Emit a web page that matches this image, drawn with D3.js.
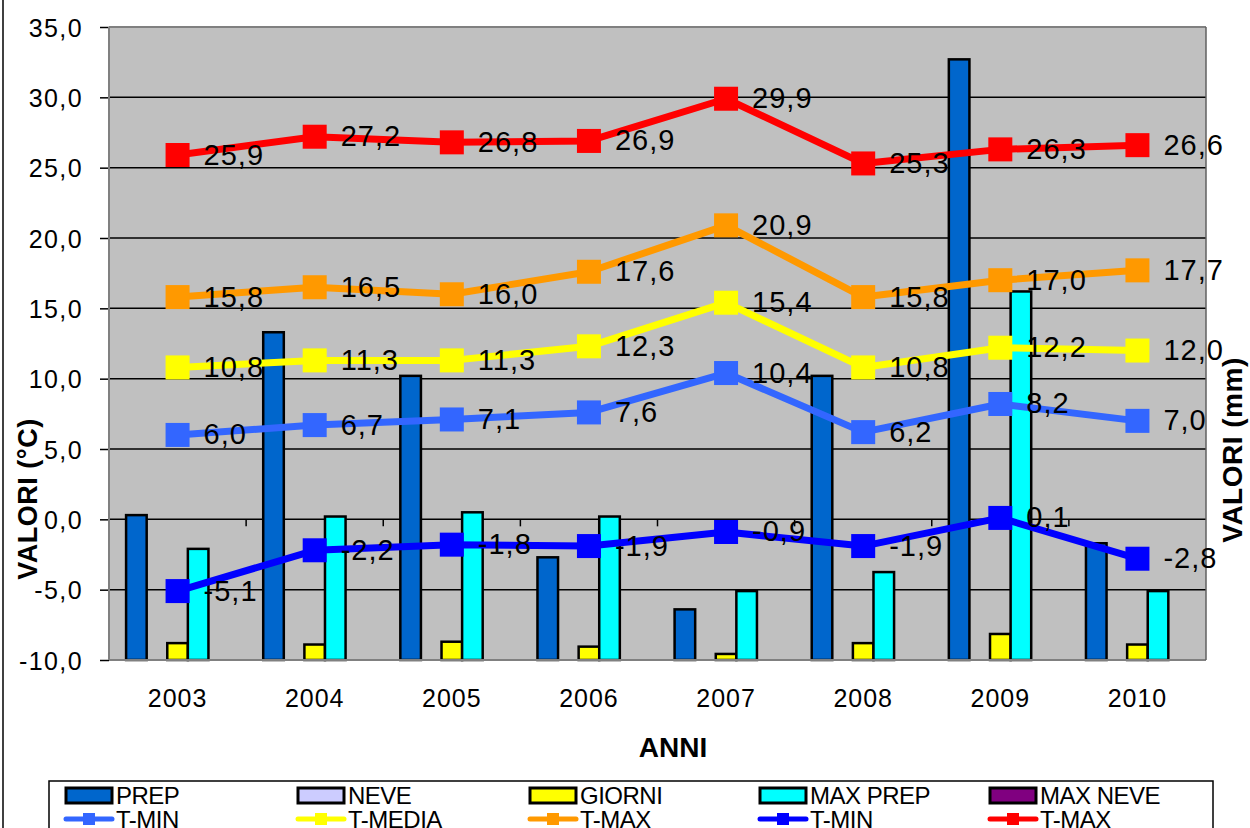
<!DOCTYPE html>
<html>
<head>
<meta charset="utf-8">
<script src="https://cdn.jsdelivr.net/npm/d3@7"></script>
<style>
  html, body { margin: 0; padding: 0; background: #fff; }
  svg { display: block; font-family: "Liberation Sans", Arial, sans-serif; }
</style>
</head>
<body>
<svg id="chart" width="1250" height="828"></svg>
<script>
// Anni
const years = ["2003", "2004", "2005", "2006", "2007", "2008", "2009", "2010"];

// Temperature (°C)
const tMinLight = [6.0, 6.7, 7.1, 7.6, 10.4, 6.2, 8.2, 7.0];
const tMedia    = [10.8, 11.3, 11.3, 12.3, 15.4, 10.8, 12.2, 12.0];
const tMaxOrange = [15.8, 16.5, 16.0, 17.6, 20.9, 15.8, 17.0, 17.7];
const tMinBlue  = [-5.1, -2.2, -1.8, -1.9, -0.9, -1.9, 0.1, -2.8];
const tMaxRed   = [25.9, 27.2, 26.8, 26.9, 29.9, 25.3, 26.3, 26.6];

// Precipitazioni (mm, asse secondario)
const prep    = [103, 233, 202, 73, 36, 202, 427, 83];
const neve    = [0, 0, 0, 0, 0, 0, 0, 0];
const giorni  = [12, 11, 13, 9.5, 4.3, 12, 18.5, 11];
const maxPrep = [79, 102, 105, 102, 49, 62.5, 262, 49];
const maxNeve = [0, 0, 0, 0, 0, 0, 0, 0];

// Assi
const yTicks = [-10, -5, 0, 5, 10, 15, 20, 25, 30, 35];
const yDomain = [-10, 35];
const y2Domain = [0, 450];

const barSeries = [
  { name: "PREP", values: prep, color: "#0066CC" },
  { name: "NEVE", values: neve, color: "#CCCCFF" },
  { name: "GIORNI", values: giorni, color: "#FFFF00" },
  { name: "MAX PREP", values: maxPrep, color: "#00FFFF" },
  { name: "MAX NEVE", values: maxNeve, color: "#800080" }
];
const lineSeries = [
  { name: "T-MIN", values: tMinLight, color: "#3366FF" },
  { name: "T-MEDIA", values: tMedia, color: "#FFFF00" },
  { name: "T-MAX", values: tMaxOrange, color: "#FF9900" },
  { name: "T-MIN", values: tMinBlue, color: "#0000FF" },
  { name: "T-MAX", values: tMaxRed, color: "#FF0000" }
];

const fmt = v => v.toFixed(1).replace(".", ",");

const svg = d3.select("#chart");
const plot = { left: 109, right: 1206, top: 27, bottom: 660 };

const x = d3.scaleBand().domain(years).range([plot.left, plot.right]).paddingInner(0).paddingOuter(0);
const xSub = d3.scaleBand().domain(barSeries.map(d => d.name))
  .range([0, x.bandwidth()]).paddingInner(0).paddingOuter(0.83);
const y = d3.scaleLinear().domain(yDomain).range([plot.bottom, plot.top]);
const y2 = d3.scaleLinear().domain(y2Domain).range([plot.bottom, plot.top]);

// outer border line on the left
svg.append("line").attr("x1", 3).attr("x2", 3).attr("y1", 0).attr("y2", 828)
  .attr("stroke", "#000").attr("stroke-width", 1.5);

// plot background
svg.append("rect")
  .attr("x", plot.left).attr("y", plot.top)
  .attr("width", plot.right - plot.left).attr("height", plot.bottom - plot.top)
  .attr("fill", "#C0C0C0");

// gridlines
svg.append("g").selectAll("line").data(yTicks.filter(t => t !== -10 && t !== 35)).join("line")
  .attr("x1", plot.left).attr("x2", plot.right)
  .attr("y1", d => y(d)).attr("y2", d => y(d))
  .attr("stroke", "#000").attr("stroke-width", 1.5);

// left axis (ticks and labels)
const yAxis = d3.axisLeft(y).tickValues(yTicks).tickSize(9).tickPadding(17).tickFormat(fmt);
const gy = svg.append("g").attr("transform", `translate(${plot.left},0)`).call(yAxis);
gy.select(".domain").remove();
gy.selectAll(".tick line").attr("stroke", "#000").attr("stroke-width", 1.5);
gy.selectAll(".tick text")
  .attr("font-size", 25).attr("fill", "#000")
  .attr("letter-spacing", "1.4px")
  .attr("font-family", "Liberation Sans, Arial, sans-serif")
  .attr("dy", "0.36em");

// category tick marks on the zero line
const bounds = years.slice(1).map(c => x(c));
svg.append("g").selectAll("line").data(bounds).join("line")
  .attr("x1", d => d).attr("x2", d => d)
  .attr("y1", y(0)).attr("y2", y(0) + 7)
  .attr("stroke", "#000").attr("stroke-width", 1.5);

// bars
const barG = svg.append("g");
barSeries.forEach(s => {
  barG.append("g").selectAll("rect").data(s.values).join("rect")
    .attr("x", (d, i) => x(years[i]) + xSub(s.name))
    .attr("width", xSub.bandwidth())
    .attr("y", d => y2(d))
    .attr("height", d => plot.bottom - y2(d))
    .attr("fill", s.color)
    .attr("stroke", "#000").attr("stroke-width", 2.5)
    .attr("display", d => d > 0 ? null : "none");
});

// frame
svg.append("line").attr("x1", plot.left).attr("x2", plot.left).attr("y1", plot.top).attr("y2", plot.bottom)
  .attr("stroke", "#808080").attr("stroke-width", 2);
svg.append("line").attr("x1", plot.left).attr("x2", plot.right).attr("y1", plot.top).attr("y2", plot.top)
  .attr("stroke", "#808080").attr("stroke-width", 2);
svg.append("line").attr("x1", plot.left).attr("x2", plot.right).attr("y1", plot.bottom).attr("y2", plot.bottom)
  .attr("stroke", "#808080").attr("stroke-width", 2);
svg.append("line").attr("x1", plot.right).attr("x2", plot.right).attr("y1", plot.top).attr("y2", plot.bottom)
  .attr("stroke", "#606060").attr("stroke-width", 1.5);

// lines and markers
const cx = i => x(years[i]) + x.bandwidth() / 2;
const lineGen = d3.line().x((d, i) => cx(i)).y(d => y(d));
const ms = 24;
lineSeries.forEach(s => {
  const g = svg.append("g");
  g.append("path").datum(s.values).attr("d", lineGen)
    .attr("fill", "none").attr("stroke", s.color).attr("stroke-width", 7)
    .attr("stroke-linejoin", "round");
  g.selectAll("rect").data(s.values).join("rect")
    .attr("x", (d, i) => cx(i) - ms / 2).attr("y", d => y(d) - ms / 2)
    .attr("width", ms).attr("height", ms).attr("fill", s.color);
});

// data labels
lineSeries.forEach(s => {
  svg.append("g").selectAll("text").data(s.values).join("text")
    .attr("x", (d, i) => cx(i) + 26).attr("y", d => y(d) + 9.5)
    .attr("font-size", 29).attr("letter-spacing", "1px").attr("fill", "#000")
    .text(fmt);
});

// category labels
svg.append("g").selectAll("text").data(years).join("text")
  .attr("x", d => x(d) + x.bandwidth() / 2).attr("y", 707)
  .attr("text-anchor", "middle").attr("font-size", 25).attr("letter-spacing", "1px")
  .text(d => d);

// axis titles
svg.append("text").attr("x", 673).attr("y", 757).attr("text-anchor", "middle")
  .attr("font-size", 28).attr("font-weight", "bold").text("ANNI");
svg.append("text").attr("transform", "translate(37,499) rotate(-90)")
  .attr("text-anchor", "middle").attr("font-size", 27).attr("font-weight", "bold")
  .attr("letter-spacing", "0.5px").text("VALORI (°C)");
svg.append("text").attr("transform", "translate(1242,450) rotate(-90)")
  .attr("text-anchor", "middle").attr("font-size", 28).attr("font-weight", "bold")
  .attr("letter-spacing", "0.5px").text("VALORI (mm)");

// legend
const legend = svg.append("g");
legend.append("rect").attr("x", 49).attr("y", 781).attr("width", 1164).attr("height", 80)
  .attr("fill", "#fff").attr("stroke", "#000").attr("stroke-width", 1.5);
const colX = [66, 298, 530, 760, 990];
barSeries.forEach((s, i) => {
  legend.append("rect").attr("x", colX[i]).attr("y", 788).attr("width", 46).attr("height", 15)
    .attr("fill", s.color).attr("stroke", "#000").attr("stroke-width", 3);
  legend.append("text").attr("x", colX[i] + 50).attr("y", 804)
    .attr("font-size", 24).attr("letter-spacing", "-0.5px").text(s.name);
});
lineSeries.forEach((s, i) => {
  legend.append("line").attr("x1", colX[i]).attr("x2", colX[i] + 46)
    .attr("y1", 819).attr("y2", 819).attr("stroke", s.color).attr("stroke-width", 5)
    .attr("stroke-linecap", "round");
  legend.append("rect").attr("x", colX[i] + 17).attr("y", 813).attr("width", 12).attr("height", 12)
    .attr("fill", s.color);
  legend.append("text").attr("x", colX[i] + 50).attr("y", 828)
    .attr("font-size", 24).attr("letter-spacing", "-0.5px").text(s.name);
});
</script>
</body>
</html>
